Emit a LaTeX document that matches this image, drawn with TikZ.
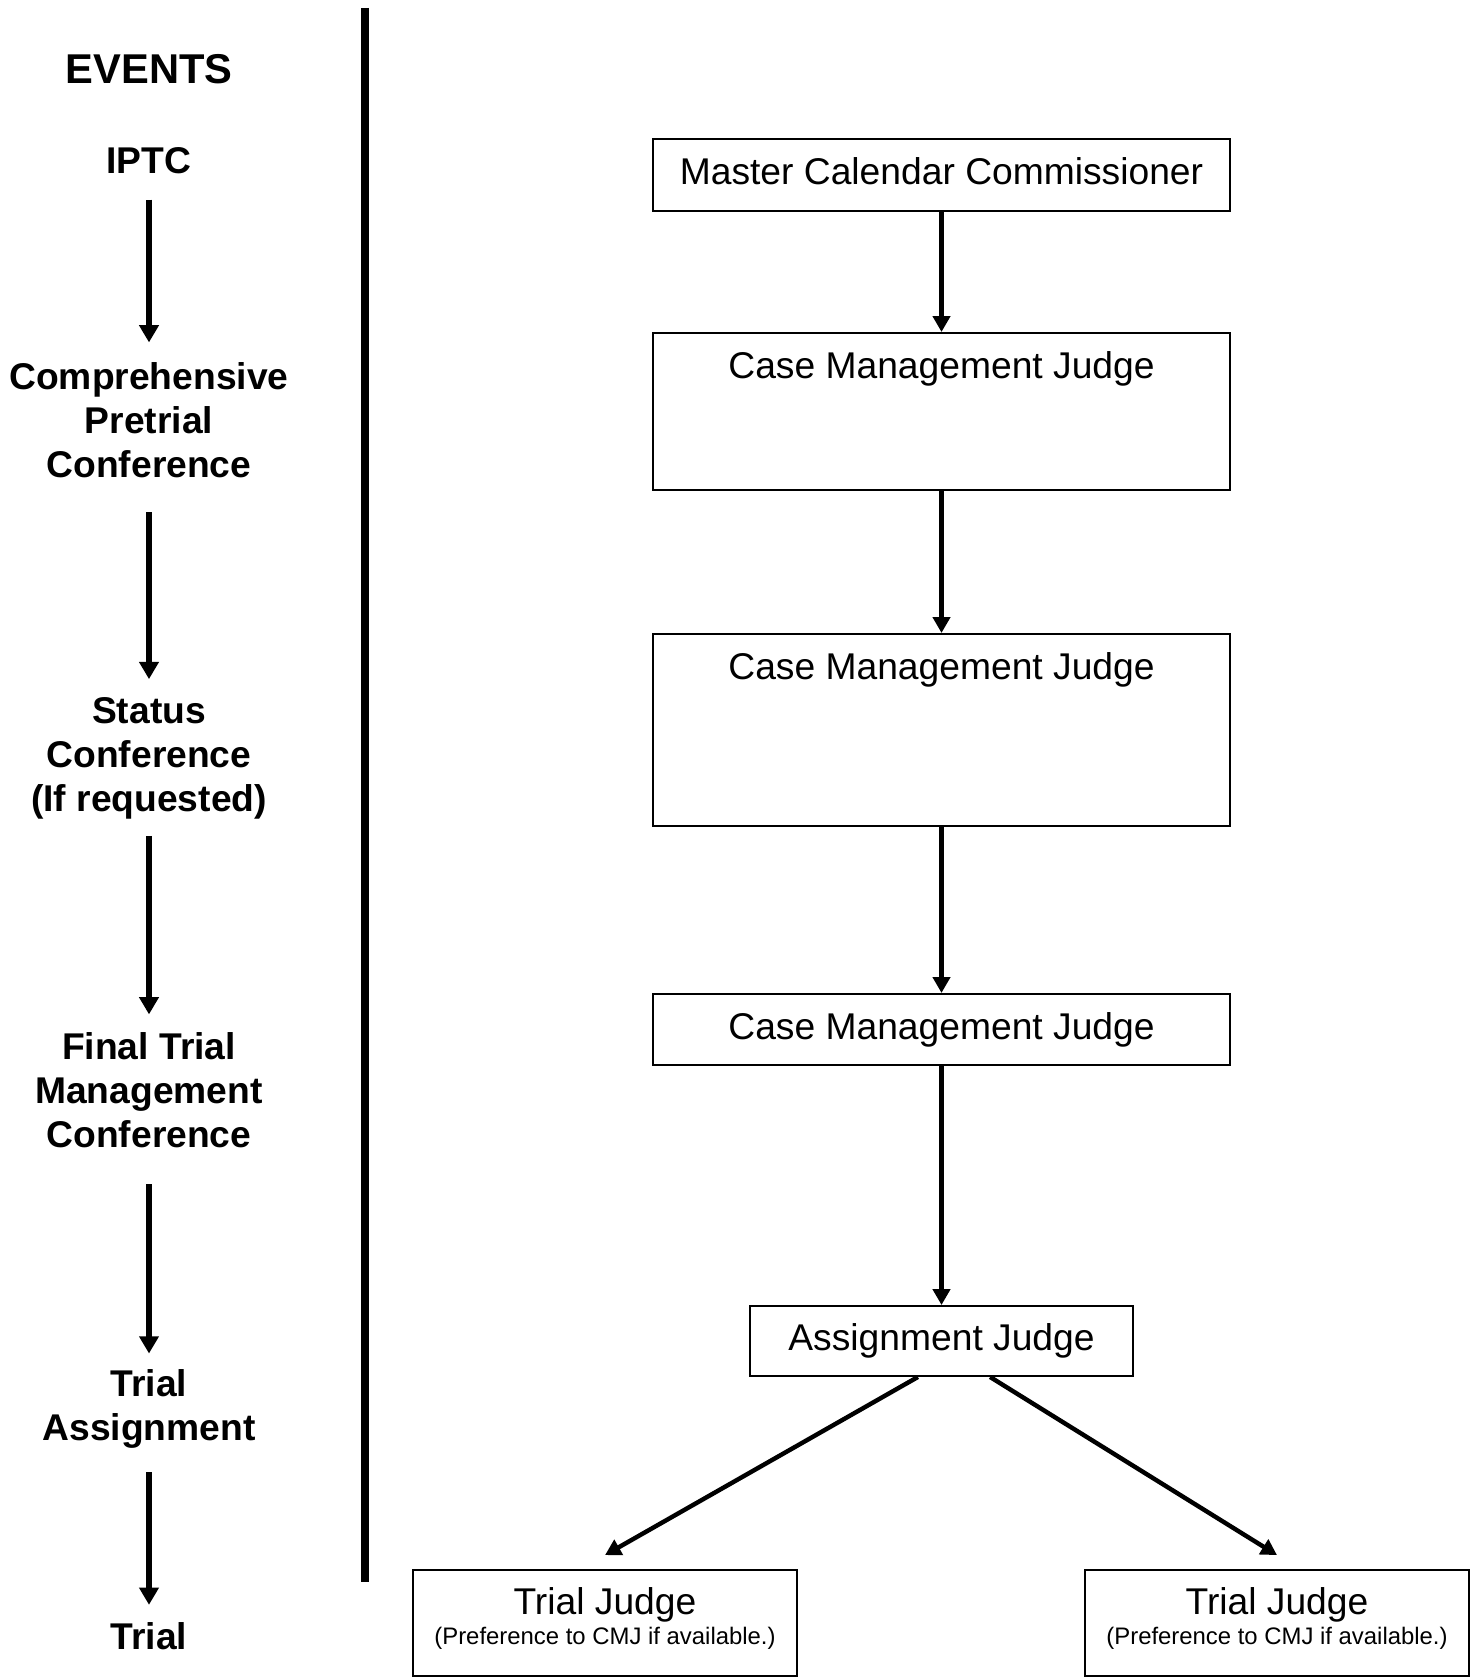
\documentclass[tikz,border=0pt]{standalone}
\usepackage{fontspec}
\setmainfont{Liberation Sans}
\usetikzlibrary{arrows.meta, math}

\begin{document}
\begin{tikzpicture}[x=0.36pt, y=-0.36pt,
  event/.style={font=\fontsize{13.4}{15.8}\selectfont\bfseries, align=center, inner sep=0pt},
  judge/.style={draw, line width=0.7pt, font=\fontsize{13.4}{16}\selectfont, align=center, inner sep=0pt},
  evarrow/.style={line width=2.1pt, -{Triangle[length=6.2pt,width=6.8pt]}},
  jarrow/.style={line width=1.6pt, -{Triangle[length=5.7pt,width=6.1pt]}}]

\tikzmath{
\xE = 149;%events column
\xJ = 941.5;%judges column
\xL = 605;
\xR = 1277;
}

\useasboundingbox (0,0) rectangle (1478,1679);

%events:
\node[event, font=\fontsize{15}{17}\selectfont\bfseries] (events) at (\xE,69) {EVENTS};
\node[event] (iptc) at (\xE,161) {IPTC};
\node[event] (cpc) at (\xE,420) {Comprehensive\\Pretrial\\Conference};
\node[event] (status) at (\xE,758.5) {Status\\Conference\\(If requested)};
\node[event] (ftmc) at (\xE,1090) {Final Trial\\Management\\Conference};
\node[event] (ta) at (\xE,1409) {Trial\\Assignment};
\node[event] (trial) at (\xE,1636) {Trial};

\draw[evarrow, shorten <=9pt, shorten >=7pt] (iptc) -- (cpc);
\draw[evarrow, shorten <=12.2pt, shorten >=6.5pt] (cpc) -- (status);
\draw[evarrow, shorten <=5.8pt, shorten >=6.3pt] (status) -- (ftmc);
\draw[evarrow, shorten <=13pt, shorten >=5.6pt] (ftmc) -- (ta);
\draw[evarrow, shorten <=8.3pt, shorten >=6.1pt] (ta) -- (trial);

%divider:
\draw[line width=3pt] (365,8) -- (365,1582);

%judges:
\node[judge, minimum width=207.7pt, minimum height=25.9pt, text height=9.8pt, text depth=2.9pt] (mcc) at (\xJ,175) {Master Calendar Commissioner};
\node[judge, anchor=north, minimum width=207.7pt, text height=9.8pt, text depth=33.7pt, inner ysep=6.5pt] (cmj1) at (\xJ,332) {Case Management Judge};
\node[judge, anchor=north, minimum width=207.7pt, text height=9.8pt, text depth=46.3pt, inner ysep=6.5pt] (cmj2) at (\xJ,633) {Case Management Judge};
\node[judge, minimum width=207.7pt, minimum height=25.6pt] (cmj3) at (\xJ,1029.5) {Case Management Judge};
\node[judge, minimum width=138.2pt, minimum height=25.2pt] (aj) at (\xJ,1341) {Assignment Judge};
\node[judge, font=\fontsize{13.4}{10.9}\selectfont, minimum width=138.2pt, minimum height=38.2pt, text depth=4.9pt] (tj1) at (\xL,1623) {Trial Judge\\{\fontsize{8.6}{10.9}\selectfont (Preference to CMJ if available.)}};
\node[judge, font=\fontsize{13.4}{10.9}\selectfont, minimum width=138.2pt, minimum height=38.2pt, text depth=4.9pt] (tj2) at (\xR,1623) {Trial Judge\\{\fontsize{8.6}{10.9}\selectfont (Preference to CMJ if available.)}};

\draw[jarrow] (mcc) -- (cmj1);
\draw[jarrow] (cmj1) -- (cmj2);
\draw[jarrow] (cmj2) -- (cmj3);
\draw[jarrow] (cmj3) -- (aj);
\draw[jarrow] ([xshift=-8.5pt]aj.south) -- ([yshift=5pt]tj1.north);
\draw[jarrow] ([xshift=17.5pt]aj.south) -- ([yshift=5pt]tj2.north);

\end{tikzpicture}
\end{document}
